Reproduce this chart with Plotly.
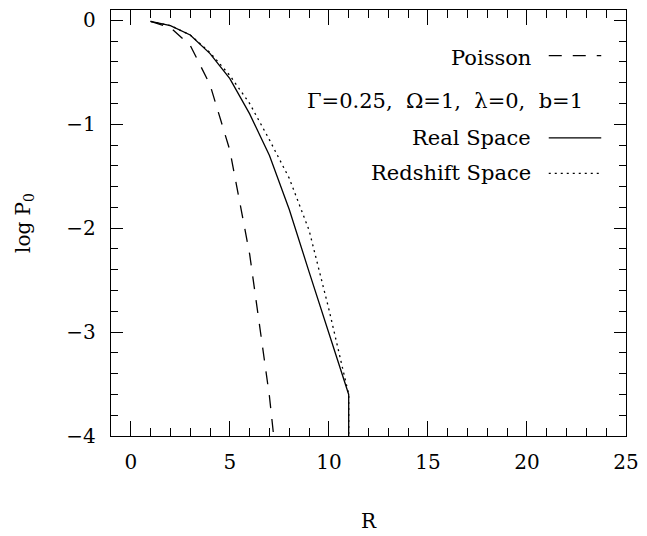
import plotly.graph_objects as go

# ---- data ----
R_real = [1, 2, 3, 4, 5, 6, 7, 8, 9, 10, 11, 11]
logP_real = [-0.01, -0.05, -0.14, -0.32, -0.56, -0.90, -1.30, -1.82, -2.42, -3.00, -3.60, -6.0]

R_redshift = [1, 2, 3, 4, 5, 6, 7, 8, 9, 10, 11, 11]
logP_redshift = [-0.01, -0.05, -0.14, -0.31, -0.53, -0.80, -1.15, -1.52, -2.02, -2.78, -3.60, -6.0]

R_poisson = [1, 2, 3, 4, 5, 6, 7, 8]
logP_poisson = [-0.01, -0.07, -0.24, -0.62, -1.25, -2.25, -3.62, -5.40]

x_ticks = [0, 5, 10, 15, 20, 25]
y_ticks = [0, -1, -2, -3, -4]

legend_labels = ["Poisson", "\u0393=0.25,\u00a0 \u03a9=1,\u00a0 \u03bb=0,\u00a0 b=1",
                 "Real Space", "Redshift Space"]

# ---- layout constants ----
W, H = 647, 536
L, Rm, T, B = 111, 16, 8, 98
PW, PH = W - L - Rm, H - T - B
FONT = "DejaVu Serif"
FS = 20
LFS = 21
LW = 1.3


def px(xp):
    return (xp - L) / PW


def py(yp):
    return (T + PH - yp) / PH


fig = go.Figure()
line_common = dict(color="black", width=LW)
fig.add_trace(go.Scatter(x=R_poisson, y=logP_poisson, mode="lines",
                         line=dict(**line_common, dash="13px,11px"), name="Poisson"))
fig.add_trace(go.Scatter(x=R_real, y=logP_real, mode="lines",
                         line=dict(**line_common), name="Real Space"))
fig.add_trace(go.Scatter(x=R_redshift, y=logP_redshift, mode="lines",
                         line=dict(**line_common, dash="2px,4px"), name="Redshift Space"))

axis_common = dict(showgrid=False, zeroline=False, showline=True, linecolor="black",
                   linewidth=LW, mirror="allticks", ticks="inside", tickcolor="black",
                   tickwidth=LW, tickfont=dict(family=FONT, size=FS, color="black"))

fig.update_xaxes(**axis_common, range=[-1, 25], tickvals=x_ticks, ticklen=15,
                 ticklabelstandoff=8,
                 minor=dict(dtick=1, ticks="inside", ticklen=8, tickcolor="black", tickwidth=LW),
                 title=dict(text="R", font=dict(family=FONT, size=FS, color="black"), standoff=40))
fig.update_yaxes(**axis_common, range=[-4, 0.1], tickvals=y_ticks, ticklen=12,
                 ticklabelstandoff=10,
                 minor=dict(dtick=0.2, tick0=0, ticks="inside", ticklen=7, tickcolor="black", tickwidth=LW),
                 title=dict(text="log P<sub>0</sub>", font=dict(family=FONT, size=FS, color="black"),
                            standoff=30))

# ---- legend (text on the left, line sample on the right) ----
ann = []
shapes = []
text_rows = [(legend_labels[0], 537, 56), (legend_labels[1], 590, 100),
             (legend_labels[2], 537, 137), (legend_labels[3], 537, 173)]
for txt, xr, yc in text_rows:
    ann.append(dict(text=txt, x=px(xr), y=py(yc), xref="paper", yref="paper",
                    xanchor="right", yanchor="middle", showarrow=False,
                    font=dict(family=FONT, size=LFS, color="black")))
samples = [(54, "13px,11px"), (137, "solid"), (173, "2px,4px")]
for yc, d in samples:
    shapes.append(dict(type="line", xref="paper", yref="paper",
                       x0=px(553), x1=px(606), y0=py(yc), y1=py(yc),
                       line=dict(color="black", width=LW, dash=d)))

fig.update_layout(width=W, height=H, margin=dict(l=L, r=Rm, t=T, b=B),
                  paper_bgcolor="white", plot_bgcolor="white", showlegend=False,
                  annotations=ann, shapes=shapes)

fig.write_html("out.html")
